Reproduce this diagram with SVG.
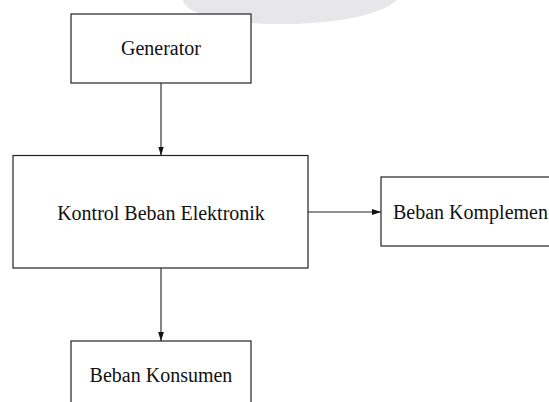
<svg xmlns="http://www.w3.org/2000/svg" width="549" height="402" viewBox="0 0 549 402">
<style>
.box{fill:#fff;stroke:#222;stroke-width:1.2}
.lbl{font-family:"Liberation Serif","Times New Roman",serif;font-size:20px;fill:#111}
.con{stroke:#222;stroke-width:1.1;fill:none;marker-end:url(#ah)}
</style>
<defs>
<marker id="ah" viewBox="0 0 10 10" refX="10" refY="5" markerWidth="9" markerHeight="9" markerUnits="userSpaceOnUse" orient="auto">
<path d="M0,1.8 L10,5 L0,8.2 Z" fill="#111"/>
</marker>
</defs>
<rect width="549" height="402" fill="#fff"/>
<path d="M183,0 C186,17 238,25 290,24 C342,23 382,14 397,0 Z" fill="#e7e7e9"/>
<g id="connectors">
<line class="con" x1="161" y1="83" x2="161" y2="155.5"/>
<line class="con" x1="308" y1="212" x2="381" y2="212"/>
<line class="con" x1="161" y1="268" x2="161" y2="341"/>
</g>
<g id="generator">
<rect class="box" x="71" y="14" width="180" height="69"/>
<text class="lbl" x="161" y="55" text-anchor="middle">Generator</text>
</g>
<g id="kontrol">
<rect class="box" x="13" y="155.5" width="295" height="112.5"/>
<text class="lbl" x="161" y="219.5" text-anchor="middle">Kontrol Beban Elektronik</text>
</g>
<g id="komplemen">
<rect class="box" x="381" y="177" width="200" height="69"/>
<text class="lbl" x="393" y="219">Beban Komplemen</text>
</g>
<g id="konsumen">
<rect class="box" x="71" y="341" width="180" height="80"/>
<text class="lbl" x="161" y="382" text-anchor="middle">Beban Konsumen</text>
</g>
</svg>
